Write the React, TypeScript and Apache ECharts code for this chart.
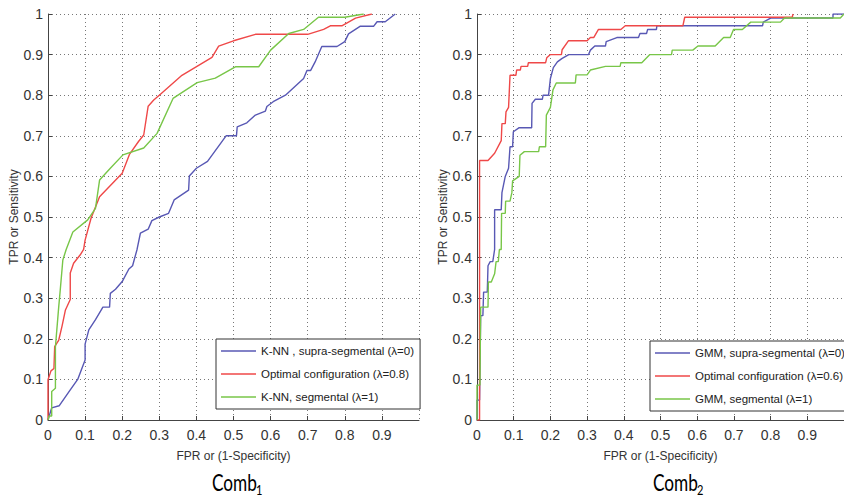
import React, { useEffect, useRef } from "react";
import * as echarts from "echarts";

// ---- Data (FPR, TPR) ----
const knnSupra = [[0,0],[0.01,0.03],[0.03,0.035],[0.06,0.074],[0.08,0.1],[0.1,0.148],[0.1,0.187],[0.11,0.222],[0.128,0.247],[0.148,0.278],[0.166,0.278],[0.168,0.312],[0.182,0.322],[0.2,0.341],[0.218,0.372],[0.228,0.38],[0.24,0.42],[0.249,0.46],[0.27,0.47],[0.28,0.491],[0.3,0.5],[0.325,0.509],[0.34,0.542],[0.379,0.566],[0.381,0.601],[0.4,0.62],[0.43,0.637],[0.48,0.7],[0.508,0.7],[0.51,0.722],[0.536,0.732],[0.559,0.751],[0.586,0.761],[0.59,0.772],[0.607,0.784],[0.64,0.8],[0.689,0.841],[0.698,0.861],[0.708,0.861],[0.72,0.882],[0.738,0.92],[0.779,0.92],[0.8,0.932],[0.81,0.951],[0.842,0.97],[0.878,0.97],[0.887,0.981],[0.909,0.981],[0.936,1.0]];
const optimal08 = [[0,0],[0,0.099],[0.008,0.121],[0.016,0.127],[0.018,0.181],[0.029,0.197],[0.038,0.232],[0.047,0.271],[0.06,0.297],[0.06,0.362],[0.069,0.386],[0.087,0.407],[0.096,0.42],[0.1,0.443],[0.116,0.497],[0.139,0.55],[0.2,0.608],[0.22,0.655],[0.244,0.686],[0.258,0.702],[0.27,0.773],[0.285,0.788],[0.3,0.8],[0.361,0.849],[0.442,0.893],[0.46,0.921],[0.5,0.934],[0.559,0.95],[0.7,0.95],[0.743,0.962],[0.761,0.971],[0.792,0.971],[0.829,0.99],[0.873,1.0]];
const knnSeg = [[0,0],[0.003,0.01],[0.01,0.01],[0.01,0.07],[0.02,0.078],[0.02,0.18],[0.029,0.28],[0.033,0.32],[0.04,0.394],[0.049,0.42],[0.067,0.463],[0.107,0.493],[0.128,0.521],[0.139,0.591],[0.168,0.62],[0.202,0.653],[0.258,0.67],[0.294,0.706],[0.337,0.792],[0.402,0.831],[0.451,0.842],[0.505,0.87],[0.568,0.87],[0.6,0.911],[0.649,0.952],[0.689,0.962],[0.729,0.992],[0.8,0.992],[0.851,1.0]];

const gmmSupra = [[0,0],[0,0.049],[0.007,0.049],[0.01,0.257],[0.016,0.257],[0.018,0.315],[0.028,0.315],[0.03,0.38],[0.036,0.39],[0.043,0.39],[0.048,0.42],[0.048,0.518],[0.066,0.518],[0.068,0.56],[0.077,0.6],[0.086,0.62],[0.09,0.673],[0.097,0.673],[0.099,0.71],[0.115,0.72],[0.149,0.72],[0.15,0.78],[0.159,0.79],[0.178,0.79],[0.18,0.8],[0.195,0.8],[0.2,0.841],[0.208,0.868],[0.219,0.882],[0.231,0.89],[0.25,0.9],[0.304,0.9],[0.309,0.911],[0.321,0.921],[0.35,0.921],[0.352,0.932],[0.381,0.942],[0.44,0.942],[0.444,0.952],[0.462,0.952],[0.465,0.962],[0.489,0.962],[0.49,0.971],[0.778,0.971],[0.78,0.98],[0.8,0.99],[0.97,0.99],[0.97,1.0],[1,1]];
const optimal06 = [[0,0],[0.007,0],[0.007,0.639],[0.03,0.639],[0.048,0.657],[0.066,0.688],[0.068,0.73],[0.077,0.73],[0.079,0.759],[0.086,0.77],[0.09,0.849],[0.106,0.849],[0.108,0.862],[0.118,0.862],[0.12,0.871],[0.138,0.871],[0.14,0.88],[0.187,0.88],[0.19,0.892],[0.2,0.9],[0.23,0.9],[0.232,0.912],[0.249,0.934],[0.3,0.934],[0.309,0.942],[0.318,0.942],[0.331,0.962],[0.392,0.962],[0.404,0.971],[0.561,0.971],[0.566,0.992],[0.859,0.992],[0.861,1.0]];
const gmmSeg = [[0,0],[0,0.086],[0.008,0.086],[0.01,0.278],[0.03,0.278],[0.031,0.34],[0.039,0.34],[0.048,0.36],[0.052,0.39],[0.058,0.39],[0.061,0.42],[0.066,0.42],[0.067,0.509],[0.077,0.509],[0.078,0.539],[0.09,0.539],[0.095,0.56],[0.097,0.589],[0.115,0.6],[0.117,0.652],[0.129,0.661],[0.168,0.661],[0.17,0.673],[0.187,0.673],[0.189,0.751],[0.2,0.77],[0.207,0.813],[0.216,0.83],[0.268,0.83],[0.27,0.85],[0.3,0.85],[0.309,0.862],[0.35,0.871],[0.39,0.871],[0.392,0.88],[0.449,0.88],[0.471,0.9],[0.53,0.9],[0.532,0.911],[0.588,0.911],[0.602,0.921],[0.649,0.921],[0.672,0.942],[0.69,0.942],[0.699,0.962],[0.723,0.962],[0.746,0.98],[0.827,0.98],[0.838,0.99],[0.99,0.99],[1,1]];

const leftNames = ["K-NN , supra-segmental (λ=0)", "Optimal configuration (λ=0.8)", "K-NN, segmental (λ=1)"];
const rightNames = ["GMM, supra-segmental (λ=0)", "Optimal configuration (λ=0.6)", "GMM, segmental (λ=1)"];
const captionMain = "Comb";
const captionSubs = ["1", "2"];
const xName = "FPR or (1-Specificity)";
const yName = "TPR or Sensitivity";

const BLUE = "#5858b4";
const RED = "#ef4848";
const GREEN = "#78c648";
const FONT = "'Liberation Sans', Arial, sans-serif";
const CAP_FONT = "Lato, 'Open Sans', sans-serif";

export default function App() {
  const ref = useRef<HTMLDivElement>(null);
  useEffect(() => {
    if (!ref.current) return;
    const chart = echarts.init(ref.current, null, { renderer: "svg" });

    const mkX = (gi: number) => ({
      type: "value", gridIndex: gi, min: 0, max: 1, interval: 0.1,
      name: xName, nameLocation: "middle", nameGap: 30,
      nameTextStyle: { fontSize: 12, color: "#333", fontFamily: FONT },
      axisLine: { show: true, onZero: false, lineStyle: { color: "#444", width: 1 } },
      axisTick: { show: true, inside: true, length: 4, lineStyle: { color: "#444" } },
      axisLabel: { fontSize: 14, color: "#333", margin: 8, showMaxLabel: false, fontFamily: FONT },
      splitLine: { show: true, lineStyle: { color: "#777", type: [1, 3], width: 1 } },
    });
    const mkY = (gi: number, gap: number) => ({
      type: "value", gridIndex: gi, min: 0, max: 1, interval: 0.1,
      name: yName, nameLocation: "middle", nameGap: gap,
      nameTextStyle: { fontSize: 12, color: "#333", fontFamily: FONT },
      axisLine: { show: true, onZero: false, lineStyle: { color: "#444", width: 1 } },
      axisTick: { show: true, inside: true, length: 4, lineStyle: { color: "#444" } },
      axisLabel: { fontSize: 14, color: "#333", margin: 5, fontFamily: FONT },
      splitLine: { show: true, lineStyle: { color: "#777", type: [1, 3], width: 1 } },
    });
    const mkS = (name: string, data: number[][], color: string, gi: number) => ({
      name, type: "line", data, xAxisIndex: gi, yAxisIndex: gi,
      showSymbol: false, symbol: "none", color,
      itemStyle: { color },
      lineStyle: { color, width: 1.4 },
    });
    const legendCommon = {
      orient: "vertical", icon: "rect", itemWidth: 35, itemHeight: 1.6, itemGap: 9,
      padding: [5, 6, 5, 5], borderColor: "#333", borderWidth: 1,
      backgroundColor: "#fff", borderRadius: 0,
      textStyle: { fontSize: 11.5, color: "#222", fontFamily: FONT, lineHeight: 14 },
      selectedMode: false,
    };
    const caption = (sub: string, x0: number) => ({
      type: "group",
      left: x0,
      top: 469,
      children: [
        {
          type: "text", x: 0, y: 0, scaleX: 0.75,
          style: { text: captionMain, fontSize: 23, lineHeight: 26, fontFamily: CAP_FONT, fill: "#000", verticalAlign: "top", align: "left" },
        },
        {
          type: "text", x: 44, y: 15, scaleX: 0.85,
          style: { text: sub, fontSize: 13, lineHeight: 12, fontFamily: CAP_FONT, fill: "#000", verticalAlign: "top", align: "left" },
        },
      ],
    });

    chart.setOption({
      animation: false,
      backgroundColor: "#fff",
      grid: [
        { left: 48, top: 14, width: 371, height: 406, containLabel: false },
        { left: 477, top: 14, width: 369, height: 406, containLabel: false },
      ],
      xAxis: [mkX(0), mkX(1)],
      yAxis: [mkY(0, 23), mkY(1, 22)],
      legend: [
        { ...legendCommon, data: leftNames, left: 216, top: 339 },
        { ...legendCommon, data: rightNames, left: 650, top: 341 },
      ],
      series: [
        mkS(leftNames[0], knnSupra, BLUE, 0),
        mkS(leftNames[1], optimal08, RED, 0),
        mkS(leftNames[2], knnSeg, GREEN, 0),
        mkS(rightNames[0], gmmSupra, BLUE, 1),
        mkS(rightNames[1], optimal06, RED, 1),
        mkS(rightNames[2], gmmSeg, GREEN, 1),
      ],
      graphic: [caption(captionSubs[0], 212), caption(captionSubs[1], 653)],
    });
    return () => chart.dispose();
  }, []);

  return (
    <div style={{ position: "fixed", left: 0, top: 0, width: 844, height: 499, overflow: "hidden", background: "#fff" }}>
      <div ref={ref} style={{ width: 844, height: 499 }} />
    </div>
  );
}
